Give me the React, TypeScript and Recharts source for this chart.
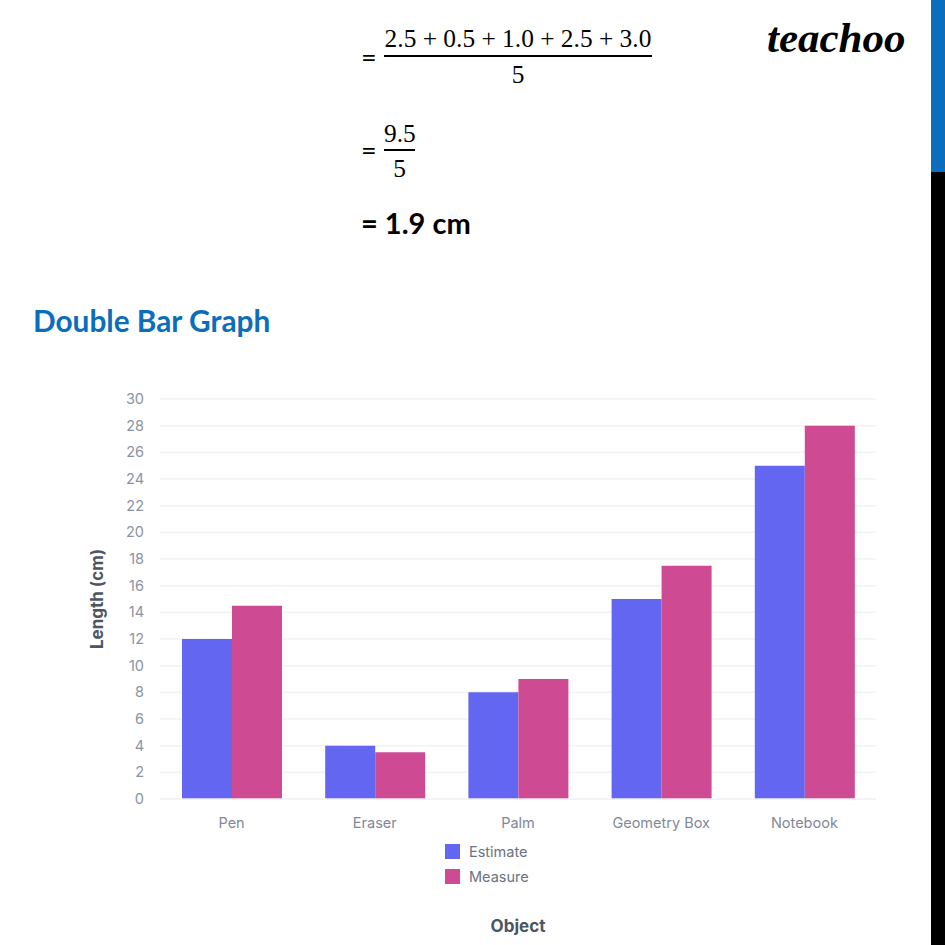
import React from 'react';
import { BarChart, Bar, XAxis, YAxis, CartesianGrid, Legend } from 'recharts';

const categories = ['Pen', 'Eraser', 'Palm', 'Geometry Box', 'Notebook'];
const estimate = [12, 4, 8, 15, 25];
const measure = [14.5, 3.5, 9, 17.5, 28];
const yTicks = [0, 2, 4, 6, 8, 10, 12, 14, 16, 18, 20, 22, 24, 26, 28, 30];

const data = categories.map((name, i) => ({ name, Estimate: estimate[i], Measure: measure[i] }));

const CHART_FONT = 'Inter, "Noto Sans", sans-serif';
const SLIDE_FONT = 'Lato, "Noto Sans", sans-serif';
const MATH_FONT = '"Liberation Serif", serif';

function Abs({ x, y, style, children }: { x: number; y: number; style?: React.CSSProperties; children?: React.ReactNode }) {
  return <div style={{ position: 'absolute', left: x, top: y, whiteSpace: 'nowrap', color: '#000', ...style }}>{children}</div>;
}

// legend stacked like the original, squares then label
function ChartLegend({ payload }: any) {
  return (
    <div style={{ fontFamily: CHART_FONT, fontSize: 14.5 }}>
      {(payload || []).map((p: any) => (
        <div key={p.value} style={{ display: 'flex', alignItems: 'center', height: 25, color: '#6b7280' }}>
          <span style={{ width: 15, height: 15, background: p.color, marginRight: 9, display: 'inline-block' }} />
          {p.value}
        </div>
      ))}
    </div>
  );
}

export default function App() {
  return (
    <div style={{ position: 'fixed', left: 0, top: 0, width: 945, height: 945, background: '#fff', overflow: 'hidden' }}>
      {/* fractions */}
      <Abs x={361} y={40} style={{ fontFamily: SLIDE_FONT, fontSize: 27 }}>=</Abs>
      <Abs x={384} y={24} style={{ width: 268, textAlign: 'center', fontFamily: MATH_FONT, fontSize: 25.4 }}>2.5 + 0.5 + 1.0 + 2.5 + 3.0</Abs>
      <Abs x={384} y={55} style={{ width: 268, height: 2, background: '#000' }} />
      <Abs x={384} y={60} style={{ width: 268, textAlign: 'center', fontFamily: MATH_FONT, fontSize: 25.4 }}>5</Abs>

      <Abs x={361} y={133} style={{ fontFamily: SLIDE_FONT, fontSize: 27 }}>=</Abs>
      <Abs x={384} y={119} style={{ width: 31, textAlign: 'center', fontFamily: MATH_FONT, fontSize: 25.4 }}>9.5</Abs>
      <Abs x={384} y={149} style={{ width: 31, height: 2, background: '#000' }} />
      <Abs x={384} y={154} style={{ width: 31, textAlign: 'center', fontFamily: MATH_FONT, fontSize: 25.4 }}>5</Abs>

      <Abs x={361} y={205} style={{ fontFamily: SLIDE_FONT, fontSize: 29, fontWeight: 700 }}>= 1.9 cm</Abs>
      <Abs x={33} y={303} style={{ fontFamily: SLIDE_FONT, fontSize: 29.8, fontWeight: 700, color: '#0A6EBD' }}>Double Bar Graph</Abs>
      <Abs x={767} y={13} style={{ fontFamily: MATH_FONT, fontSize: 43, fontWeight: 700, fontStyle: 'italic' }}>teachoo</Abs>

      {/* side bar */}
      <Abs x={931} y={0} style={{ width: 14, height: 172, background: '#0A6EBD' }} />
      <Abs x={931} y={172} style={{ width: 14, height: 773, background: '#000' }} />

      <div style={{ position: 'absolute', left: 0, top: 0 }}>
        <BarChart
          width={945}
          height={945}
          data={data}
          barSize={50}
          barGap={0}
          margin={{ top: 399, right: 69, bottom: 116, left: 0 }}
        >
          <CartesianGrid horizontal vertical={false} stroke="#f0f2f6" strokeWidth={1.5} />
          <XAxis
            dataKey="name"
            height={30}
            axisLine={{ stroke: '#f0f2f6', strokeWidth: 1.5 }}
            tickLine={false}
            tick={{ fill: '#7f8899', fontSize: 14.5, fontFamily: CHART_FONT }}
            tickMargin={13}
            label={{ value: 'Object', position: 'insideTop', dy: 116, fill: '#4b5563', fontSize: 17, fontWeight: 700, fontFamily: CHART_FONT }}
          />
          <YAxis
            width={60}
            domain={[0, 30]}
            ticks={yTicks}
            interval={0}
            axisLine={false}
            tickLine={false}
            tick={{ fill: '#8a93a3', fontSize: 14.5, fontFamily: CHART_FONT }}
            tickMargin={10}
            label={{ value: 'Length (cm)', angle: -90, position: 'insideLeft', dx: -8, dy: 0, fill: '#4b5563', fontSize: 17, fontWeight: 700, fontFamily: CHART_FONT, style: { textAnchor: 'middle' } }}
          />
          <Legend
            layout="vertical"
            align="left"
            verticalAlign="top"
            content={<ChartLegend />}
            wrapperStyle={{ position: 'absolute', left: 445, top: 839, width: 100 }}
          />
          <Bar dataKey="Estimate" fill="#6366F1" isAnimationActive={false} />
          <Bar dataKey="Measure" fill="#CE4A93" isAnimationActive={false} />
        </BarChart>
      </div>
    </div>
  );
}
